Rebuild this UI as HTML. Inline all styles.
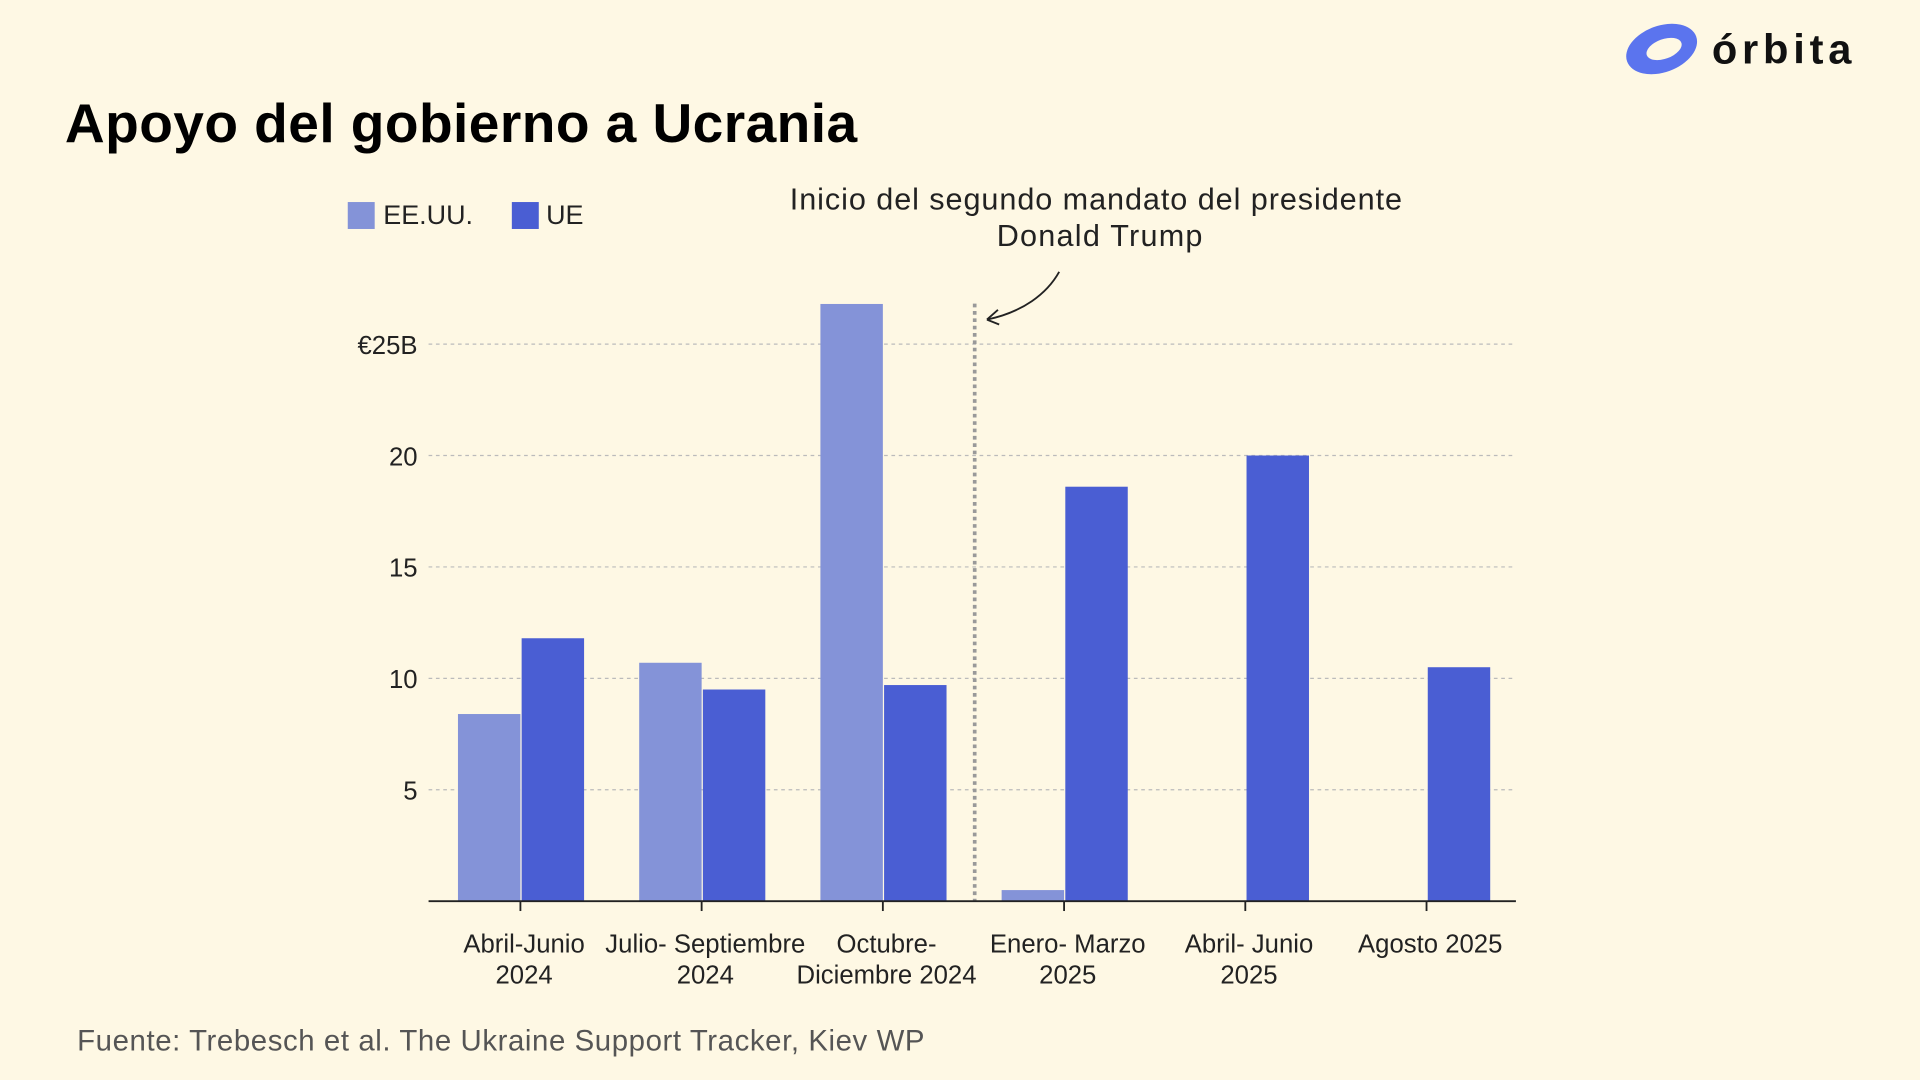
<!DOCTYPE html>
<html><head><meta charset="utf-8"><style>
html,body{margin:0;padding:0;background:#fef8e4;}
svg{display:block;font-family:"Liberation Sans",sans-serif;}
</style></head><body>
<svg width="1920" height="1080" viewBox="0 0 1568 882" xmlns="http://www.w3.org/2000/svg">
<rect width="1568" height="882" fill="#fef8e4"/>
<g>
<ellipse cx="1357" cy="40" rx="30" ry="19" fill="#5b74ee" transform="rotate(-20 1357 40)"/>
<ellipse cx="1359" cy="40" rx="15" ry="8" fill="#fef8e4" transform="rotate(-20 1359 40)"/>
<text x="1398" y="52" font-size="34" font-weight="bold" fill="#111" textLength="114">órbita</text>
</g>
<text x="53" y="116" font-size="45" font-weight="bold" fill="#000" textLength="647">Apoyo del gobierno a Ucrania</text>
<g>
<rect x="284" y="165" width="22" height="22" fill="#8493d8"/>
<text x="313" y="183" font-size="22" fill="#222">EE.UU.</text>
<rect x="418" y="165" width="22" height="22" fill="#4a5ed3"/>
<text x="446" y="183" font-size="22" fill="#222">UE</text>
</g>
<text x="645" y="171" font-size="25" fill="#222" textLength="500">Inicio del segundo mandato del presidente</text>
<text x="814" y="201" font-size="25" fill="#222" textLength="168">Donald Trump</text>
<path d="M865 222 C855 240 835 255 806 261 M806 261 L815 253 M806 261 L816 265" stroke="#222" stroke-width="1.5" fill="none"/>
<g id="grid"></g><g id="bars"></g><g id="xlabels"></g>
<line x1="796" y1="248" x2="796" y2="736" stroke="#999" stroke-width="3" stroke-dasharray="3,3"/>
<line x1="350" y1="736" x2="1238" y2="736" stroke="#222" stroke-width="1.5"/>
<text x="63" y="858" font-size="24" fill="#555" textLength="692">Fuente: Trebesch et al. The Ukraine Support Tracker, Kiev WP</text>
</svg>
<script>
const categories=[["Abril-Junio","2024"],["Julio- Septiembre","2024"],["Octubre-","Diciembre 2024"],["Enero- Marzo","2025"],["Abril- Junio","2025"],["Agosto 2025"]];
const usValues=[8.4,10.7,26.8,0.5,0,0];
const euValues=[11.8,9.5,9.7,18.6,20,10.5];
const yTicks=[5,10,15,20,25];
const yTickLabels=["5","10","15","20","€25B"];
const NS="http://www.w3.org/2000/svg";
const y=v=>736-v*18.2;
const x=i=>425+i*148;
function mk(t,a,p){const e=document.createElementNS(NS,t);for(const k in a)e.setAttribute(k,a[k]);p.appendChild(e);return e;}
const grid=document.getElementById('grid');
yTicks.forEach((v,i)=>{
 const l=mk('line',{x1:350,x2:1238,y1:y(v),y2:y(v),stroke:'#bbb','stroke-dasharray':'3,3'},grid);
 
 
 const t=mk('text',{x:341,y:y(v)+8,'font-size':21,'text-anchor':'end',fill:'#222'},grid);
 t.textContent=yTickLabels[i];
 
 
});
const bars=document.getElementById('bars');
categories.forEach((c,i)=>{
 if(usValues[i]>0){const r=mk('rect',{x:x(i)-51,y:y(usValues[i]),width:51,height:usValues[i]*18.2,fill:'#8493d8'},bars);
 
 }
 const r2=mk('rect',{x:x(i)+1,y:y(euValues[i]),width:51,height:euValues[i]*18.2,fill:'#4a5ed3'},bars);
 
 
 mk('line',{x1:x(i),x2:x(i),y1:736,y2:744,stroke:'#222','stroke-width':1.5},bars);
 const xl=document.getElementById('xlabels');
 c.forEach((s,j)=>{const t=mk('text',{x:x(i)+3,y:778+j*25,'font-size':21,'text-anchor':'middle',fill:'#222'},xl);
 t.textContent=s;
 
 });
});
</script>
</body></html>
